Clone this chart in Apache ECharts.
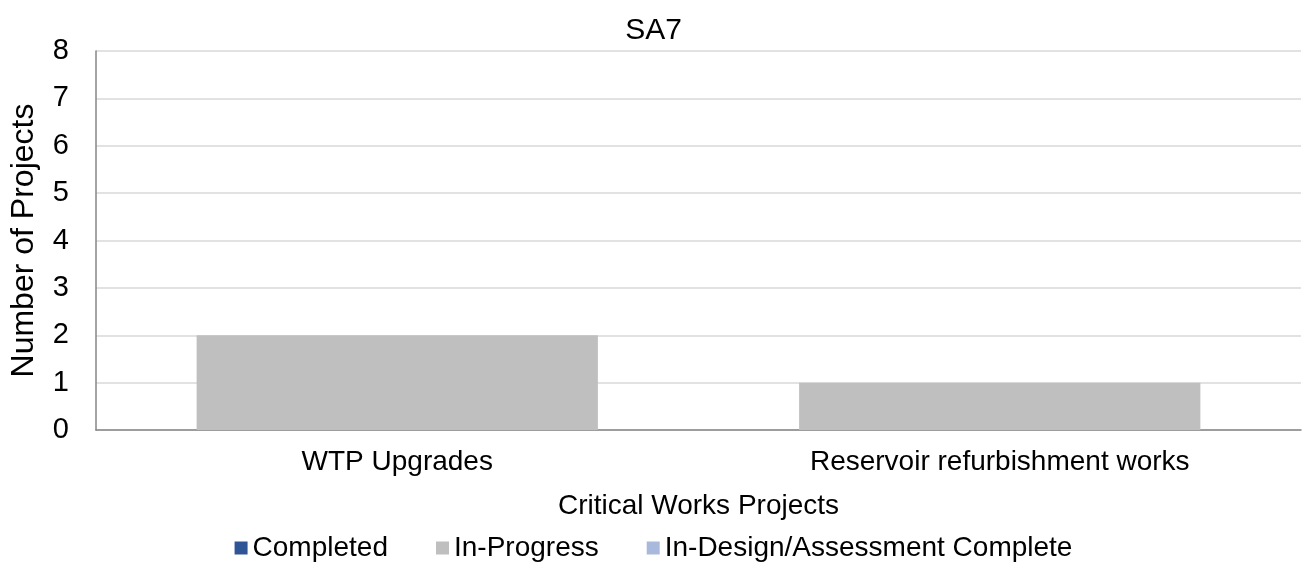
<!DOCTYPE html>
<html>
<head>
<meta charset="utf-8">
<script src="https://cdn.jsdelivr.net/npm/echarts@6/dist/echarts.min.js"></script>
<style>
  html, body { margin: 0; padding: 0; background: #fff; }
  #main { width: 1307px; height: 568px; }
</style>
</head>
<body>
<div id="main"></div>
<script>
// chart data
const categories = ['WTP Upgrades', 'Reservoir refurbishment works'];
const completed = [0, 0];
const inProgress = [2, 1];
const inDesign = [0, 0];
const yTicks = [0, 1, 2, 3, 4, 5, 6, 7, 8];

const font = 'Liberation Sans, Arial, sans-serif';
const chart = echarts.init(document.getElementById('main'));

chart.setOption({
  animation: false,
  title: {
    text: 'SA7',
    left: 'center',
    top: 11,
    textStyle: { fontFamily: font, fontSize: 30, fontWeight: 'normal', color: '#000' }
  },
  legend: {
    bottom: 1,
    left: 'center',
    itemWidth: 13,
    itemHeight: 13,
    itemGap: 48,
    icon: 'rect',
    textStyle: { fontFamily: font, fontSize: 28, color: '#000' },
    data: ['Completed', 'In-Progress', 'In-Design/Assessment Complete']
  },
  grid: { left: 93, right: 6, top: 51, bottom: 138 },
  xAxis: {
    type: 'category',
    data: categories,
    name: 'Critical Works Projects',
    nameLocation: 'middle',
    nameGap: 62,
    nameTextStyle: { fontFamily: font, fontSize: 28, color: '#000' },
    axisLine: { lineStyle: { color: '#868686', width: 1.5 } },
    axisTick: { show: false },
    axisLabel: { fontFamily: font, fontSize: 28, color: '#000', margin: 18 }
  },
  yAxis: {
    type: 'value',
    min: 0,
    max: yTicks[yTicks.length - 1],
    interval: 1,
    name: 'Number of Projects',
    nameLocation: 'middle',
    nameGap: 56,
    nameTextStyle: { fontFamily: font, fontSize: 32, color: '#000' },
    axisLine: { show: true, lineStyle: { color: '#868686', width: 1.5 } },
    axisTick: { show: false },
    axisLabel: { fontFamily: font, fontSize: 29, color: '#000', margin: 27 },
    splitLine: { lineStyle: { color: '#d9d9d9', width: 1.5 } }
  },
  series: [
    { name: 'Completed', type: 'bar', stack: 'a', data: completed, itemStyle: { color: '#2f5597' }, barCategoryGap: '33.4%' },
    { name: 'In-Progress', type: 'bar', stack: 'a', data: inProgress, itemStyle: { color: '#bfbfbf' } },
    { name: 'In-Design/Assessment Complete', type: 'bar', stack: 'a', data: inDesign, itemStyle: { color: '#a9b9dc' } }
  ]
});
</script>
</body>
</html>
